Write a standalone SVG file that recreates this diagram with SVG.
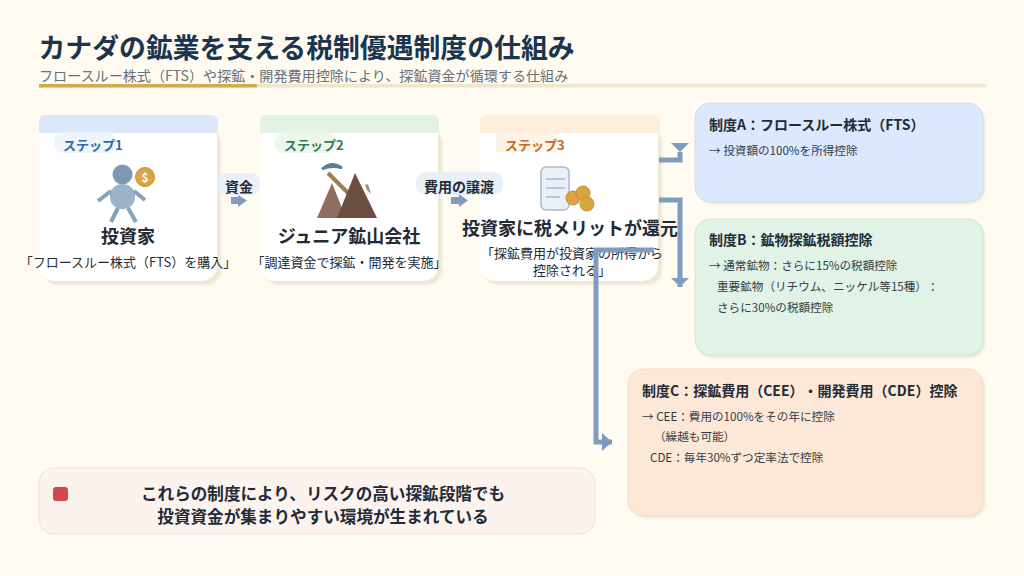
<svg xmlns="http://www.w3.org/2000/svg" width="1024" height="576" viewBox="0 0 1024 576">
<style>
text{font-family:"Noto Sans CJK JP","Noto Sans",sans-serif;fill:#222b36;text-spacing-trim:space-all}
.m{text-anchor:middle}
.title{font-size:26.85px;font-weight:700;fill:#1a3550}
.sub{font-size:14.08px;fill:#68707a}
.step{font-size:13px;font-weight:700}
.name{font-size:18px;font-weight:700}
.desc{font-size:13px}
.edge{font-size:14px;font-weight:700}
.h{font-size:14px;font-weight:700}
.b{font-size:11.6px;fill:#333b45}
.shadow{fill:#eee7d5;filter:url(#soft)}
.card{fill:#fff}
.conn{fill:none;stroke:#7f9cc0;stroke-width:5}
.pill{fill:#e9f0f8}
.foot{font-size:16.6px;font-weight:700}
</style>
<defs>
<filter id="soft" x="-5%" y="-5%" width="110%" height="110%"><feGaussianBlur stdDeviation="0.8"/></filter>
<marker id="ah" markerUnits="userSpaceOnUse" markerWidth="12" markerHeight="18" refX="10" refY="9" orient="auto"><path d="M0 0L10 9L0 18z" fill="#7f9cc0"/></marker>
<marker id="ad" markerUnits="userSpaceOnUse" markerWidth="12" markerHeight="18" refX="9" refY="9" orient="90"><path d="M0 0L9 9L0 18z" fill="#7f9cc0"/></marker>
</defs>
<rect width="1024" height="576" fill="#fffbf1"/>
<g id="header">
<text class="title" x="38.5" y="58">カナダの鉱業を支える税制優遇制度の仕組み</text>
<text class="sub" x="39" y="81">フロースルー株式（FTS）や探鉱・開発費用控除により、探鉱資金が循環する仕組み</text>
<rect x="39" y="84" width="947" height="3.5" fill="#efe6cb"/>
<rect x="39" y="84" width="218" height="3.5" fill="#d4aa4f"/>
</g>
<g id="step1">
<rect class="shadow" x="43" y="128" width="178" height="157" rx="15"/>
<rect class="card" x="39" y="120" width="178" height="161" rx="15"/>
<path d="M39 133V121a6 6 0 0 1 6-6H212a6 6 0 0 1 6 6V133z" fill="#dbe8fb"/>
<rect x="54" y="132" width="62" height="21" rx="9" fill="#eef4fc"/>
<text class="step" x="63" y="150" style="fill:#2f67a8">ステップ1</text>
<circle cx="122.500" cy="174.500" r="10" fill="#7d98b3"/>
<rect x="110" y="184" width="25" height="25" rx="12" fill="#9bb3c9"/>
<path d="M111 191L98 201M134 191L145 200M118 208L111 222M128 208L136 222" stroke="#88a2bb" stroke-width="4" fill="none"/>
<circle cx="145" cy="177" r="9.500" fill="#d9a441" stroke="#c4902f"/>
<text x="145" y="182" class="m" style="fill:#fff;font-size:12px;font-weight:700">$</text>
<text class="name m" x="128" y="243">投資家</text>
<text class="desc m" x="128" y="267">「フロースルー株式（FTS）を購入」</text>
</g>
<g id="step2">
<rect class="shadow" x="264" y="128" width="178" height="157" rx="15"/>
<rect class="card" x="260" y="120" width="178" height="161" rx="15"/>
<path d="M260 133V121a6 6 0 0 1 6-6H433a6 6 0 0 1 6 6V133z" fill="#e3f2e3"/>
<rect x="275" y="133" width="62" height="20" rx="9" fill="#edf6ed"/>
<text class="step" x="284" y="150" style="fill:#2f7d4f">ステップ2</text>
<path d="M322 169Q332 160 342 168Q332 165 322 169z" fill="#5e7d96" stroke="#5e7d96" stroke-width="2.500"/>
<path d="M328 173L350 195" stroke="#9b7f55" stroke-width="4"/>
<path d="M317 218L332 183L346 218z" fill="#8f6f5f"/>
<path d="M337 218L355 173L377 218z" fill="#6e4e41"/>
<path d="M365 185L368 184L371 194L367 190z" fill="#a58b80"/>
<text class="name m" x="349" y="243">ジュニア鉱山会社</text>
<text class="desc m" x="349" y="267">「調達資金で探鉱・開発を実施」</text>
</g>
<g id="step3">
<rect class="shadow" x="484" y="128" width="178" height="157" rx="15"/>
<rect class="card" x="480" y="120" width="178" height="161" rx="15"/>
<path d="M480 133V121a6 6 0 0 1 6-6H654a6 6 0 0 1 6 6V133z" fill="#feeedb"/>
<rect x="496" y="133" width="62" height="19" fill="#fdf3e6"/>
<text class="step" x="505" y="150" style="fill:#c4691c">ステップ3</text>
<rect x="541" y="167" width="28" height="43" rx="5" fill="#eaf0f7" stroke="#a9bbcf" stroke-width="1.500"/>
<path d="M546 179H565M546 188H565M546 197H560" stroke="#a9bbcf" stroke-width="1.500"/>
<g fill="#d9a441" stroke="#c4902f"><circle cx="573" cy="198" r="7"/><circle cx="583" cy="193" r="7"/><circle cx="587" cy="204" r="7"/></g>
<text class="name m" x="570" y="235">投資家に税メリットが還元</text>
<text class="desc m" x="572" y="258">「探鉱費用が投資家の所得から</text>
<text class="desc m" x="572" y="275">控除される」</text>
</g>
<g id="seidoA">
<rect class="shadow" x="698" y="106" width="287" height="98" rx="15"/>
<rect x="695" y="103" width="288" height="99" rx="15" fill="#dbe8fd" stroke="#cfdcf0"/>
<text class="h" x="709" y="130">制度A：フロースルー株式（FTS）</text>
<text class="b" x="709" y="155">→ 投資額の100%を所得控除</text>
</g>
<g id="seidoB">
<rect class="shadow" x="698" y="222" width="287" height="136" rx="15"/>
<rect x="695" y="219" width="288" height="136" rx="15" fill="#e0f3e6" stroke="#d3e6d8"/>
<text class="h" x="709" y="245">制度B：鉱物探鉱税額控除</text>
<text class="b" x="709" y="270">→ 通常鉱物：さらに15%の税額控除</text>
<text class="b" x="717" y="291">重要鉱物（リチウム、ニッケル等15種）：</text>
<text class="b" x="717" y="312">さらに30%の税額控除</text>
</g>
<g id="seidoC">
<rect class="shadow" x="631" y="372" width="354" height="146" rx="15"/>
<rect x="628" y="369" width="355" height="147" rx="15" fill="#fde8d8" stroke="#f0dcc8"/>
<text class="h" x="642" y="396">制度C：探鉱費用（CEE）・開発費用（CDE）控除</text>
<text class="b" x="642" y="421">→ CEE：費用の100%をその年に控除</text>
<text class="b" x="654" y="441">（繰越も可能）</text>
<text class="b" x="650" y="462">CDE：毎年30%ずつ定率法で控除</text>
</g>
<g id="footer">
<rect x="39" y="468" width="556" height="66" rx="15" fill="#fdf3ee" stroke="#f0dfd2"/>
<rect x="53" y="487" width="15" height="14" rx="3" fill="#cf4a4a"/>
<text class="foot m" x="323" y="500">これらの制度により、リスクの高い探鉱段階でも</text>
<text class="foot m" x="323" y="523">投資資金が集まりやすい環境が生まれている</text>
</g>
<g id="connectors">
<path class="conn" d="M659 160H680V152" marker-end="url(#ad)"/>
<path class="conn" d="M659 200H680V287" marker-end="url(#ad)"/>
<path class="conn" d="M654 250H596V442H612" marker-end="url(#ah)"/>
<rect class="pill" x="217" y="173" width="43" height="22" rx="9"/>
<text class="edge m" x="239" y="192">資金</text>
<path d="M231 197H238V195L247 200.500L238 207V204H231z" fill="#7f9cc0"/>
<rect class="pill" x="416" y="172" width="87" height="23" rx="10"/>
<text class="edge m" x="459" y="192">費用の譲渡</text>
<path d="M451 197H459V194L468 200.500L459 207V204H451z" fill="#7f9cc0"/>
</g>
</svg>
